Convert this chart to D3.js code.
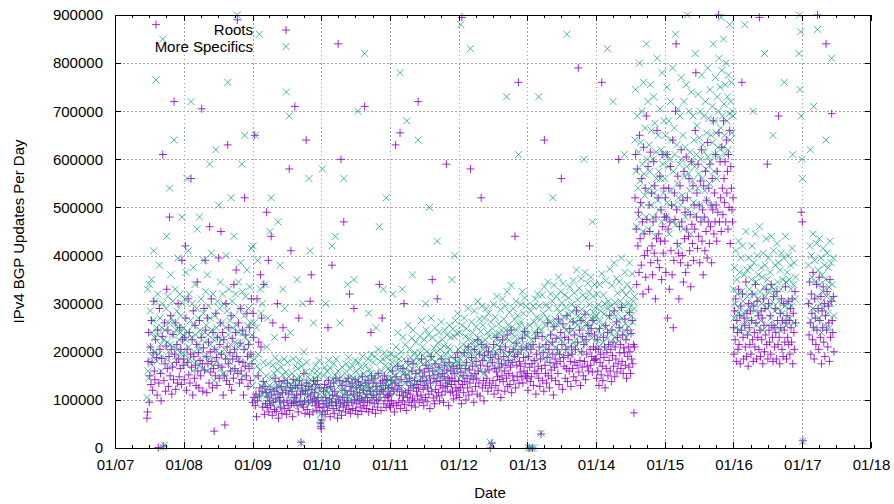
<!DOCTYPE html>
<html>
<head>
<meta charset="utf-8">
<script src="https://cdn.jsdelivr.net/npm/d3@7"></script>
<style>
  body { margin: 0; background: #fff; }
  svg text { font-family: "Liberation Sans", Arial, sans-serif; fill: #000; }
</style>
</head>
<body>
<svg id="chart" width="894" height="504"></svg>
<script>
// IPv4 BGP updates per day, in thousands.
// Each block starts on its date and holds one sample every SAMPLE_STEP_DAYS days (null = no data).
const SAMPLE_STEP_DAYS = 3;
const VALUE_UNIT = 1000;
const blockStarts = ["2007-06-20", "2008-01-01", "2009-01-01", "2010-01-01", "2011-01-01",
  "2012-01-01", "2013-01-01", "2014-01-01", "2015-01-01", "2016-01-01", "2017-01-01"];

const roots2007 = [
  62,75,180,240,95,150,210,132,265,178,
  120,198,305,160,142,225,880,188,110,245,
  1,135,290,205,155,98,186,232,610,4,
  140,260,175,118,212,330,165,245,128,190,
  480,150,275,205,112,168,236,142,720,195,
  260,122,178,215,135,300,185,148,250,165,
  205,132,390,225,172];
const roots2008 = [
  185,142,230,420,270,120,205,178,310,152,
  240,135,195,560,168,225,110,285,190,145,
  255,172,130,215,345,160,198,125,265,182,
  150,230,705,175,118,208,290,162,390,245,
  190,115,270,175,220,135,460,200,158,310,
  180,125,240,165,35,205,150,280,188,130,
  230,172,395,145,215,260,450,195,168,240,
  110,225,150,48,185,300,140,210,630,175,
  250,132,198,160,275,120,228,185,145,340,
  205,165,240,370,190,890,155,260,180,135,
  218,290,160,142,245,178,110,205,520,170,
  235,150,280,190,128,215,165,250,140,195,
  310,175];
const roots2009 = [
  95,280,230,105,650,88,112,65,310,98,
  150,220,108,125,360,210,270,118,85,138,
  340,70,128,92,115,490,84,106,390,75,
  98,122,88,440,110,68,260,95,118,80,
  145,102,76,125,300,112,62,138,98,105,
  85,128,72,115,250,95,140,82,230,120,
  70,98,135,88,112,580,78,125,410,92,
  118,65,142,95,105,710,130,96,110,88,
  125,75,270,140,96,112,12,130,90,118,
  85,155,98,72,120,640,135,80,112,95,
  128,70,305,108,360,122,98,75,140,102,
  115,88,132,96,78,140,105,92,125,84,
  52,45];
const roots2010 = [
  40,58,75,98,118,85,132,70,105,92,
  125,78,250,140,88,102,65,128,95,380,
  110,82,135,72,118,96,145,88,108,62,
  840,100,78,140,92,600,68,130,105,85,
  470,95,120,75,138,88,110,98,145,80,
  320,128,72,118,95,135,82,112,290,100,
  142,78,125,92,108,70,138,98,115,85,
  130,102,76,148,95,120,88,710,105,135,
  82,112,98,140,75,125,95,118,240,150,
  105,80,135,110,92,145,72,128,100,118,
  85,155,98,340,112,135,78,122,270,140,
  118,92,150,105,130,84,142,110,98,125,
  108,88];
const roots2011 = [
  112,85,140,98,125,160,92,118,75,135,
  630,148,88,122,170,95,130,110,655,82,
  142,118,98,165,108,300,90,152,115,78,
  138,105,180,120,95,145,112,130,88,160,
  102,175,125,98,140,85,155,118,132,108,
  720,125,95,162,138,110,185,100,148,122,
  88,158,130,105,172,140,96,125,165,112,
  150,82,135,190,118,350,160,104,145,92,
  175,122,138,108,310,152,115,168,98,140,
  130,185,110,155,125,95,148,172,118,135,
  590,162,128,145,88,178,140,115,160,132,
  145,118,170,102,155,138,188,125,110,165,
  198,120];
const roots2012 = [
  140,105,172,125,158,92,895,132,150,115,
  198,138,165,100,178,145,125,210,110,162,
  135,580,150,188,118,170,142,95,205,155,
  128,180,145,112,225,160,135,195,108,172,
  520,215,125,182,140,98,192,158,130,210,
  145,170,118,200,162,135,0,188,125,10,
  178,140,215,112,165,195,130,158,230,148,
  120,185,168,142,205,105,175,150,225,138,
  190,160,118,210,172,145,235,128,182,155,
  200,132,168,245,115,178,150,205,140,190,
  440,125,218,172,148,195,760,135,180,158,
  170,205,148,228,135,188,160,242,175,150,
  210,145];
const roots2013 = [
  155,120,190,0,168,138,205,148,175,0,
  215,130,182,160,228,112,195,155,240,170,
  145,210,128,185,29,165,232,140,198,118,
  640,172,155,215,135,188,260,150,205,125,
  178,235,162,145,220,195,110,252,168,185,
  140,228,175,205,155,268,132,195,180,240,
  560,215,122,258,188,170,230,145,205,165,
  275,138,192,225,160,248,180,128,210,195,
  165,262,148,235,178,205,140,285,172,220,
  790,158,245,182,130,265,200,168,232,150,
  215,180,278,142,225,195,170,255,160,238,
  420,205,172,248,190,158,265,210,182,235,
  185,205];
const roots2014 = [
  185,145,225,160,205,130,248,178,195,152,
  760,170,140,230,188,210,125,255,165,198,
  240,150,215,182,275,160,205,138,245,192,
  220,170,285,148,210,185,262,158,230,175,
  600,250,198,215,165,292,180,235,155,208,
  198,268,172,225,145,245,190,210,168,282,
  200,155,238,185,265,175,215,73,210,520,
  610,455,340,580,420,490,365,650,435,510,
  380,560,470,320,625,445,400,540,355,690,
  475,410,585,330,505,450,615,385,530,420,
  360,470,595,405,545,310,480,435,660,390,
  520,445,375,565,430,495,350,610,460,405,
  540,480];
const roots2015 = [
  430,520,365,480,610,270,455,540,330,470,
  585,410,505,360,640,250,390,530,475,700,
  840,495,425,565,405,310,460,545,385,620,
  470,400,515,345,575,435,490,365,605,455,
  520,380,440,560,410,485,335,595,465,425,
  545,390,505,455,660,780,480,530,415,590,
  440,505,385,555,470,620,430,495,360,545,
  480,410,575,450,515,395,635,470,540,425,
  590,460,505,385,560,495,680,445,530,470,
  610,505,430,575,490,900,655,470,595,520,
  450,625,540,485,680,560,510,595,470,640,
  530,575,455,610,500,660,425,585,540,495,
  470,520];
const roots2016 = [
  250,195,285,225,310,180,265,240,205,330,
  215,275,175,295,245,760,320,230,185,270,
  255,210,345,190,280,235,170,300,250,215,
  285,195,265,320,225,180,295,240,210,340,
  260,185,305,230,275,205,895,245,190,285,
  225,270,175,310,255,200,290,235,330,215,
  590,185,300,245,220,275,195,340,255,230,
  180,315,250,210,290,240,185,325,265,215,
  690,230,175,280,250,310,205,265,190,300,
  245,220,335,260,185,275,230,305,215,265,
  195,290,250,220,310,175,280,240,205,325,
  260,null,null,null,null,null,null,null,null,null,
  490,null];
const roots2017 = [
  470,15,null,null,null,null,null,null,null,null,
  null,300,235,345,260,195,320,280,225,365,
  250,185,310,270,215,340,245,900,290,205,
  355,265,230,315,175,285,250,335,220,300,
  190,275,840,245,325,210,295,260,180,350,
  230,305,695,265,240,315,200];

const specifics2007 = [
  105,330,160,145,340,210,285,175,350,240,
  190,265,410,230,200,305,765,250,180,320,
  235,195,380,270,215,160,250,300,850,2,
  225,6,245,185,290,440,220,315,200,260,
  540,215,360,270,175,235,305,210,640,260,
  330,190,245,285,205,395,250,225,320,240,
  275,195,480,300,235];
const specifics2008 = [
  250,195,310,225,365,175,560,240,410,210,
  320,185,265,720,230,300,160,375,255,200,
  340,235,180,290,455,215,270,170,480,245,
  205,310,830,235,165,280,390,220,190,325,
  255,160,360,235,295,185,590,270,215,405,
  245,170,320,225,140,275,205,620,250,180,
  305,230,505,195,290,345,165,260,225,320,
  155,300,205,150,250,400,190,285,760,235,
  330,180,265,215,520,165,305,250,195,440,
  275,220,320,160,255,900,210,345,240,185,
  290,385,215,590,325,240,150,275,650,230,
  315,205,370,255,175,290,220,335,190,260,
  415,235];
const specifics2009 = [
  130,420,100,260,185,650,148,250,170,390,
  195,108,860,162,330,280,128,300,112,178,
  135,92,340,120,150,210,110,270,175,98,
  130,450,115,520,145,90,172,125,155,230,
  188,135,100,162,118,470,85,180,128,380,
  112,168,95,152,330,125,185,290,142,158,
  740,130,178,115,148,690,102,240,132,120,
  155,88,185,125,138,108,170,128,145,350,
  165,98,135,182,148,90,10,170,118,300,
  112,200,128,95,158,138,178,105,148,125,
  560,92,410,142,115,160,130,98,260,135,
  145,118,172,105,160,128,150,96,182,112,
  70,55];
const specifics2010 = [
  48,72,580,125,150,110,168,92,300,118,
  160,102,145,182,115,130,88,165,122,420,
  142,105,175,95,152,440,185,112,140,82,
  160,128,100,260,120,148,90,168,135,110,
  560,122,155,98,175,115,142,340,188,105,
  135,165,95,150,125,172,108,145,350,130,
  182,102,160,120,140,700,178,128,150,112,
  168,132,100,190,125,155,115,820,138,172,
  108,148,128,185,280,162,125,155,115,195,
  140,105,178,145,120,190,98,250,132,155,
  112,205,128,460,148,180,102,160,125,185,
  330,118,198,135,172,520,188,145,128,165,
  142,118];
const specifics2011 = [
  160,130,195,145,178,320,138,168,115,190,
  150,210,132,175,240,142,185,160,780,125,
  200,170,330,230,155,185,135,215,165,120,
  680,152,255,172,140,205,160,188,130,228,
  360,245,180,142,198,128,220,170,190,155,
  640,182,140,232,198,160,265,148,210,175,
  135,225,188,300,245,200,142,180,235,165,
  500,125,195,270,170,185,230,155,208,140,
  250,178,198,160,430,218,168,240,148,205,
  190,262,162,225,180,142,212,245,172,195,
  155,235,185,210,135,255,205,170,230,190,
  350,172,248,160,232,400,265,180,150,238,
  280,178];
const specifics2012 = [
  205,165,240,185,880,148,255,195,215,172,
  270,200,232,155,248,210,188,290,168,228,
  198,830,218,262,178,240,205,150,285,222,
  190,252,212,170,305,228,198,268,160,242,
  218,295,185,255,205,155,270,225,192,290,
  212,240,178,280,232,198,12,262,188,6,
  248,205,298,170,235,272,195,228,315,215,
  182,258,238,208,288,165,245,218,310,200,
  268,230,178,295,245,730,325,190,255,225,
  282,195,240,338,175,252,218,290,205,268,
  232,188,305,245,215,275,610,200,255,228,
  262,298,215,325,240,280,205,312,250,235,
  295,210];
const specifics2013 = [
  235,190,0,215,255,0,285,225,0,210,
  295,0,262,240,310,180,272,232,320,250,
  730,295,198,268,31,245,318,212,280,185,
  335,255,228,298,205,270,345,222,290,192,
  262,320,240,215,305,520,172,338,250,268,
  210,315,258,290,230,355,198,282,262,325,
  225,302,190,342,272,250,318,215,292,245,
  860,208,278,312,238,335,265,195,298,282,
  245,348,220,322,262,292,212,370,255,308,
  275,232,332,268,198,352,288,250,318,225,
  600,265,365,215,312,282,255,342,238,325,
  298,250,355,270,228,470,315,282,262,340,
  270,292];
const specifics2014 = [
  275,225,320,245,298,210,340,265,285,235,
  362,255,220,318,278,300,205,348,250,290,
  830,228,305,272,372,240,295,215,338,282,
  720,255,385,230,302,275,352,240,322,265,
  222,345,288,305,250,395,270,328,238,298,
  610,365,258,318,230,340,280,302,252,385,
  292,240,330,275,362,262,305,290,315,640,
  745,575,460,690,540,615,480,800,555,635,
  505,700,590,450,760,570,525,665,480,840,
  600,535,720,455,630,575,755,505,660,545,
  480,600,730,530,675,440,615,560,810,515,
  650,575,495,705,560,620,470,780,590,530,
  680,610];
const specifics2015 = [
  560,650,480,610,750,510,585,680,445,600,
  720,535,640,470,790,575,505,665,610,860,
  465,630,550,705,520,420,590,690,505,770,
  600,525,650,455,720,565,625,480,755,585,
  900,495,570,700,535,615,445,740,595,555,
  690,510,640,585,820,485,610,670,540,735,
  570,645,505,700,600,775,560,630,475,690,
  615,535,720,580,655,515,790,605,685,550,
  745,595,650,505,710,635,840,575,680,610,
  770,655,560,730,625,700,810,605,750,665,
  895,785,690,625,850,715,650,755,610,800,
  680,730,620,775,695,880,640,720,760,655,
  700,690];
const specifics2016 = [
  330,270,375,300,410,250,350,320,280,430,
  290,365,245,395,325,275,420,305,255,360,
  880,285,450,265,370,315,240,395,330,290,
  375,265,350,420,300,700,385,320,285,445,
  345,255,400,310,360,280,460,325,265,375,
  300,355,245,405,335,820,380,315,435,290,
  350,255,395,325,295,365,270,440,335,305,
  650,410,330,285,380,320,255,425,345,290,
  385,305,245,370,330,405,280,350,265,395,
  760,295,440,345,255,365,305,400,290,350,
  270,380,330,295,415,610,340,260,385,310,
  355,null,null,null,null,null,820,900,745,865,
  690,600];
const specifics2017 = [
  560,14,null,null,null,null,null,null,null,null,
  null,380,305,420,620,265,400,355,290,445,
  710,250,390,345,285,425,315,870,370,270,
  435,340,300,395,240,360,325,415,290,380,
  255,350,640,315,405,280,375,335,250,430,
  300,385,810,340,310,395,275];

const rootsBlocks = [roots2007, roots2008, roots2009, roots2010, roots2011, roots2012,
  roots2013, roots2014, roots2015, roots2016, roots2017];
const specificsBlocks = [specifics2007, specifics2008, specifics2009, specifics2010, specifics2011,
  specifics2012, specifics2013, specifics2014, specifics2015, specifics2016, specifics2017];

const seriesNames = ["Roots", "More Specifics"];
const yTickValues = [0, 100000, 200000, 300000, 400000, 500000, 600000, 700000, 800000, 900000];
const xDomainYears = [2007, 2018];
const yAxisTitle = "IPv4 BGP Updates Per Day";
const xAxisTitle = "Date";

// ---- layout ----
const svg = d3.select("#chart");
const plot = { left: 115, right: 871, top: 15, bottom: 448 };
const colors = { roots: "#9400d3", specifics: "#009e73" };
const opacity = { roots: 0.85, specifics: 0.7 };
const fontSize = 15;

const parseDay = d3.timeParse("%Y-%m-%d");
const x = d3.scaleTime()
  .domain([new Date(xDomainYears[0], 0, 1), new Date(xDomainYears[1], 0, 1)])
  .range([plot.left, plot.right]);
const y = d3.scaleLinear().domain([0, 900000]).range([plot.bottom, plot.top]);

function toPoints(blocks) {
  const pts = [];
  blocks.forEach((vals, b) => {
    const start = parseDay(blockStarts[b]);
    vals.forEach((v, i) => {
      if (v == null) return;
      pts.push({ date: d3.timeDay.offset(start, i * SAMPLE_STEP_DAYS), value: v * VALUE_UNIT });
    });
  });
  return pts;
}
const rootsPts = toPoints(rootsBlocks);
const specificsPts = toPoints(specificsBlocks);

const yearTicks = d3.timeYear.range(x.domain()[0], d3.timeDay.offset(x.domain()[1], 1));
const quarterTicks = d3.timeMonth.every(3).range(x.domain()[0], x.domain()[1])
  .filter(d => d.getMonth() !== 0);

// ---- grid ----
const grid = svg.append("g").attr("stroke", "#a0a0a0").attr("stroke-width", 1)
  .attr("stroke-dasharray", "1.5,2.5").attr("shape-rendering", "crispEdges");
grid.selectAll("line.h").data(yTickValues.filter(v => v > 0 && v < 900000)).join("line")
  .attr("x1", plot.left).attr("x2", plot.right)
  .attr("y1", d => Math.round(y(d)) + 0.5).attr("y2", d => Math.round(y(d)) + 0.5);
grid.selectAll("line.v").data(yearTicks.slice(1, -1)).join("line")
  .attr("y1", plot.top).attr("y2", plot.bottom)
  .attr("x1", d => Math.round(x(d)) + 0.5).attr("x2", d => Math.round(x(d)) + 0.5);

// ---- points ----
const plusPath = "M-4,0H4M0,-4V4";
const crossPath = "M-3.5,-3.5L3.5,3.5M-3.5,3.5L3.5,-3.5";

svg.append("g").attr("fill", "none").attr("stroke", colors.roots).attr("stroke-opacity", opacity.roots)
  .selectAll("path").data(rootsPts).join("path")
  .attr("d", plusPath)
  .attr("transform", d => `translate(${x(d.date)},${y(d.value)})`);

svg.append("g").attr("fill", "none").attr("stroke", colors.specifics).attr("stroke-opacity", opacity.specifics)
  .selectAll("path").data(specificsPts).join("path")
  .attr("d", crossPath)
  .attr("transform", d => `translate(${x(d.date)},${y(d.value)})`);

// ---- axes ----
function styleAxis(g) {
  g.select(".domain").remove();
  g.attr("font-size", fontSize).attr("font-family", '"Liberation Sans", Arial, sans-serif')
    .attr("color", "#000").attr("shape-rendering", "crispEdges");
}
svg.append("g").attr("transform", `translate(0,${plot.bottom})`)
  .call(d3.axisBottom(x).tickValues(yearTicks).tickFormat(d3.timeFormat("%m/%y"))
    .tickSize(-6).tickPadding(11)).call(styleAxis);
svg.append("g").attr("transform", `translate(0,${plot.bottom})`)
  .call(d3.axisBottom(x).tickValues(quarterTicks).tickFormat("").tickSize(-3)).call(styleAxis);
svg.append("g").attr("transform", `translate(0,${plot.top})`)
  .call(d3.axisTop(x).tickValues(yearTicks).tickFormat("").tickSize(-6)).call(styleAxis);
svg.append("g").attr("transform", `translate(0,${plot.top})`)
  .call(d3.axisTop(x).tickValues(quarterTicks).tickFormat("").tickSize(-3)).call(styleAxis);
svg.append("g").attr("transform", `translate(${plot.left},0)`)
  .call(d3.axisLeft(y).tickValues(yTickValues).tickFormat(d3.format("d"))
    .tickSize(-6).tickPadding(12)).call(styleAxis);
svg.append("g").attr("transform", `translate(${plot.right},0)`)
  .call(d3.axisRight(y).tickValues(yTickValues).tickFormat("").tickSize(-6)).call(styleAxis);

// frame
svg.append("rect")
  .attr("x", plot.left + 0.5).attr("y", plot.top + 0.5)
  .attr("width", plot.right - plot.left - 1).attr("height", plot.bottom - plot.top)
  .attr("fill", "none").attr("stroke", "#000").attr("stroke-width", 1);

// ---- titles ----
svg.append("text")
  .attr("transform", `translate(24,${(plot.top + plot.bottom) / 2}) rotate(-90)`)
  .attr("text-anchor", "middle").attr("font-size", fontSize).text(yAxisTitle);
svg.append("text")
  .attr("x", (plot.left + plot.right) / 2 - 3).attr("y", 498)
  .attr("text-anchor", "middle").attr("font-size", fontSize).text(xAxisTitle);

// ---- legend ----
const legend = svg.append("g");
const legendRows = [
  { name: seriesNames[0], color: colors.roots, path: plusPath, opacity: opacity.roots },
  { name: seriesNames[1], color: colors.specifics, path: crossPath, opacity: opacity.specifics }
];
legendRows.forEach((r, i) => {
  const cy = 30 + i * 16.5;
  legend.append("text").attr("x", 253).attr("y", cy).attr("dy", "0.35em")
    .attr("text-anchor", "end").attr("font-size", fontSize).text(r.name);
  legend.append("path").attr("d", r.path).attr("transform", `translate(286,${cy})`)
    .attr("fill", "none").attr("stroke", r.color).attr("stroke-opacity", r.opacity);
});
</script>
</body>
</html>
